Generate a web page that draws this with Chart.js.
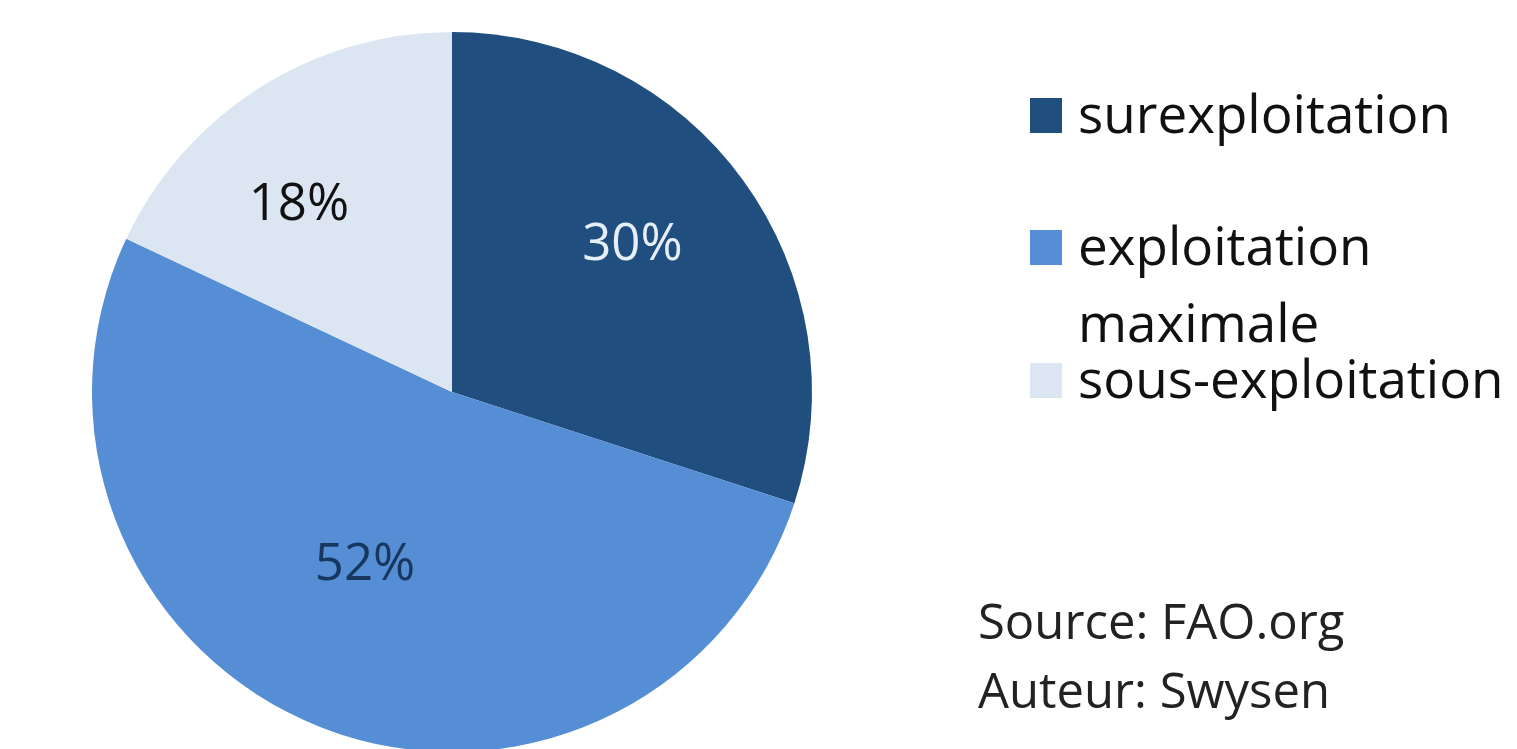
<!DOCTYPE html>
<html lang="fr">
<head>
<meta charset="utf-8">
<title>État des stocks halieutiques</title>
<script src="https://cdn.jsdelivr.net/npm/chart.js@4/dist/chart.umd.min.js"></script>
<style>
  html, body { margin: 0; padding: 0; background: #ffffff; overflow: hidden; }
  #wrap { position: relative; width: 1517px; height: 760px; }
</style>
</head>
<body>
<div id="wrap"><canvas id="pie" width="1517" height="760"></canvas></div>
<script>
// Stock categories and their share (%)
const categories = ['surexploitation', 'exploitation maximale', 'sous-exploitation'];
const shares = [30, 52, 18];
const sliceColors = ['#1F4E7F', '#558ED5', '#DCE6F2'];
const labelColors = ['#E6EEF8', '#17375E', '#111111'];
const legendLines = [['surexploitation'], ['exploitation', 'maximale'], ['sous-exploitation']];
const creditLines = ['Source: FAO.org', 'Auteur: Swysen'];

// Label placement inside each slice: fraction of radius, and shift from the mid-angle (degrees)
const labelRadius = [0.645, 0.54, 0.67];
const labelAngleShift = [-3, 5, -7];

const FONT = '"Open Sans", "Noto Sans", sans-serif';

// Percent labels placed inside each arc
const sliceLabels = {
  id: 'sliceLabels',
  afterDatasetsDraw(chart) {
    const ctx = chart.ctx;
    const meta = chart.getDatasetMeta(0);
    ctx.save();
    ctx.font = '51px ' + FONT;
    ctx.textAlign = 'center';
    ctx.textBaseline = 'middle';
    meta.data.forEach((arc, i) => {
      const p = arc.getProps(['x', 'y', 'startAngle', 'endAngle', 'outerRadius'], true);
      const mid = (p.startAngle + p.endAngle) / 2 + labelAngleShift[i] * Math.PI / 180;
      const r = p.outerRadius * labelRadius[i];
      ctx.fillStyle = labelColors[i];
      ctx.fillText(shares[i] + '%', p.x + Math.cos(mid) * r, p.y + Math.sin(mid) * r);
    });
    ctx.restore();
  }
};

// Legend and credits drawn to the right of the pie
const sideText = {
  id: 'sideText',
  afterDraw(chart) {
    const ctx = chart.ctx;
    ctx.save();
    ctx.font = '53px ' + FONT;
    ctx.textAlign = 'left';
    ctx.textBaseline = 'alphabetic';
    const rows = [133, 265, 398];
    legendLines.forEach((lines, i) => {
      const base = rows[i];
      ctx.fillStyle = sliceColors[i];
      ctx.fillRect(1030, base - 35, 32, 35);
      ctx.fillStyle = '#111111';
      lines.forEach((t, j) => ctx.fillText(t, 1078, base + j * 77));
    });
    ctx.font = '49px ' + FONT;
    ctx.fillStyle = '#222222';
    creditLines.forEach((t, j) => ctx.fillText(t, 978, 639 + j * 69));
    ctx.restore();
  }
};

new Chart(document.getElementById('pie'), {
  type: 'pie',
  data: {
    labels: categories,
    datasets: [{
      data: shares,
      backgroundColor: sliceColors,
      borderWidth: 0
    }]
  },
  options: {
    responsive: false,
    animation: false,
    rotation: 0,
    layout: { padding: { left: 92, right: 705, top: 32, bottom: 8 } },
    plugins: {
      legend: { display: false },
      tooltip: { enabled: false }
    }
  },
  plugins: [sliceLabels, sideText]
});
</script>
</body>
</html>
